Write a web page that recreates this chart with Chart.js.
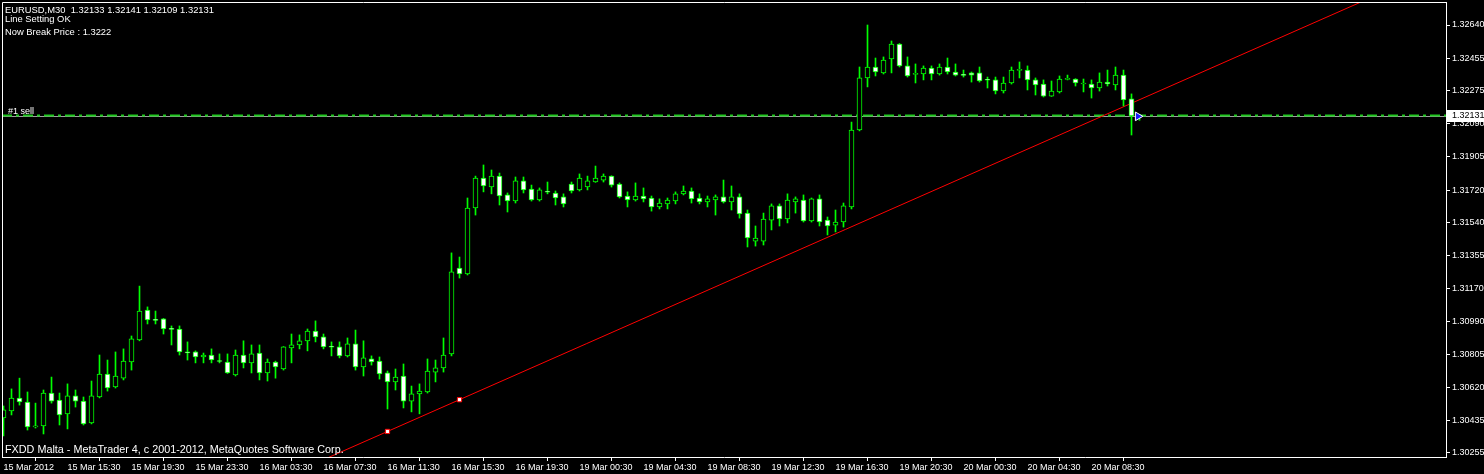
<!DOCTYPE html>
<html>
<head>
<meta charset="utf-8">
<script src="https://cdn.jsdelivr.net/npm/chart.js@4.4.1/dist/chart.umd.min.js"></script>
<style>
  html, body { margin: 0; padding: 0; background: #000; }
</style>
</head>
<body>
<canvas id="chart" width="1484" height="474"></canvas>
<script>
// EURUSD M30, one entry per bar
const tickLabels = ["15 Mar 2012", "15 Mar 15:30", "15 Mar 19:30", "15 Mar 23:30", "16 Mar 03:30", "16 Mar 07:30",
  "16 Mar 11:30", "16 Mar 15:30", "16 Mar 19:30", "19 Mar 00:30", "19 Mar 04:30", "19 Mar 08:30",
  "19 Mar 12:30", "19 Mar 16:30", "19 Mar 20:30", "20 Mar 00:30", "20 Mar 04:30", "20 Mar 08:30"];
const barsPerTick = 8;
const priceTicks = [1.30255, 1.30435, 1.30620, 1.30805, 1.30990, 1.31170, 1.31355,
  1.31540, 1.31720, 1.31905, 1.32090, 1.32275, 1.32455, 1.32640];

const open = [
  1.30450, 1.30489, 1.30561, 1.30539, 1.30400, 1.30406, 1.30589, 1.30550, 1.30473, 1.30573,
  1.30544, 1.30422, 1.30567, 1.30695, 1.30623, 1.30672, 1.30762, 1.30885, 1.31052, 1.30998,
  1.31002, 1.30946, 1.30946, 1.30818, 1.30818, 1.30790, 1.30801, 1.30769, 1.30762, 1.30690,
  1.30801, 1.30757, 1.30812, 1.30701, 1.30762, 1.30723, 1.30840, 1.30857, 1.30880, 1.30935,
  1.30902, 1.30846, 1.30846, 1.30796, 1.30863, 1.30734, 1.30779, 1.30767, 1.30701, 1.30651,
  1.30684, 1.30544, 1.30584, 1.30595, 1.30706, 1.30729, 1.30807, 1.31286, 1.31253, 1.31620,
  1.31787, 1.31737, 1.31798, 1.31693, 1.31659, 1.31771, 1.31726, 1.31665, 1.31712, 1.31704,
  1.31682, 1.31754, 1.31721, 1.31737, 1.31765, 1.31776, 1.31798, 1.31754, 1.31687, 1.31665,
  1.31687, 1.31676, 1.31626, 1.31643, 1.31659, 1.31699, 1.31715, 1.31676, 1.31654, 1.31665,
  1.31682, 1.31654, 1.31682, 1.31592, 1.31436, 1.31436, 1.31553, 1.31632, 1.31559, 1.31654,
  1.31665, 1.31548, 1.31671, 1.31553, 1.31525, 1.31542, 1.31626, 1.32055, 1.32345, 1.32406,
  1.32373, 1.32451, 1.32534, 1.32412, 1.32365, 1.32367, 1.32400, 1.32367, 1.32406, 1.32378,
  1.32361, 1.32373, 1.32373, 1.32334, 1.32334, 1.32272, 1.32317, 1.32387, 1.32389, 1.32334,
  1.32311, 1.32244, 1.32267, 1.32337, 1.32339, 1.32311, 1.32311, 1.32289, 1.32322, 1.32306,
  1.32361, 1.32228, 1.32133];
const high = [
  1.30517, 1.30612, 1.30672, 1.30595, 1.30533, 1.30606, 1.30678, 1.30589, 1.30640, 1.30606,
  1.30567, 1.30656, 1.30801, 1.30773, 1.30818, 1.30835, 1.30907, 1.31185, 1.31069, 1.31046,
  1.31005, 1.30963, 1.30963, 1.30874, 1.30824, 1.30812, 1.30835, 1.30807, 1.30807, 1.30829,
  1.30880, 1.30857, 1.30857, 1.30779, 1.30767, 1.30848, 1.30918, 1.30913, 1.30946, 1.30991,
  1.30918, 1.30874, 1.30874, 1.30896, 1.30940, 1.30880, 1.30796, 1.30790, 1.30712, 1.30723,
  1.30751, 1.30628, 1.30640, 1.30779, 1.30773, 1.30896, 1.31370, 1.31347, 1.31676, 1.31798,
  1.31860, 1.31832, 1.31815, 1.31704, 1.31793, 1.31793, 1.31748, 1.31732, 1.31765, 1.31715,
  1.31699, 1.31765, 1.31810, 1.31798, 1.31854, 1.31810, 1.31800, 1.31760, 1.31710, 1.31760,
  1.31732, 1.31687, 1.31671, 1.31676, 1.31710, 1.31743, 1.31732, 1.31699, 1.31687, 1.31693,
  1.31776, 1.31743, 1.31699, 1.31609, 1.31520, 1.31592, 1.31643, 1.31643, 1.31699, 1.31682,
  1.31693, 1.31676, 1.31693, 1.31570, 1.31609, 1.31648, 1.32099, 1.32406, 1.32640, 1.32456,
  1.32462, 1.32551, 1.32537, 1.32462, 1.32423, 1.32412, 1.32412, 1.32423, 1.32456, 1.32423,
  1.32389, 1.32378, 1.32406, 1.32350, 1.32350, 1.32350, 1.32406, 1.32434, 1.32412, 1.32345,
  1.32334, 1.32328, 1.32356, 1.32361, 1.32341, 1.32339, 1.32334, 1.32373, 1.32389, 1.32406,
  1.32389, 1.32256, 1.32141];
const low = [
  1.30350, 1.30467, 1.30522, 1.30383, 1.30394, 1.30361, 1.30533, 1.30411, 1.30389, 1.30511,
  1.30411, 1.30417, 1.30562, 1.30600, 1.30617, 1.30662, 1.30717, 1.30880, 1.30974, 1.30974,
  1.30918, 1.30857, 1.30801, 1.30773, 1.30757, 1.30757, 1.30757, 1.30757, 1.30698, 1.30684,
  1.30729, 1.30701, 1.30662, 1.30656, 1.30672, 1.30717, 1.30757, 1.30835, 1.30824, 1.30874,
  1.30835, 1.30796, 1.30785, 1.30790, 1.30717, 1.30684, 1.30745, 1.30667, 1.30500, 1.30606,
  1.30506, 1.30484, 1.30473, 1.30589, 1.30651, 1.30706, 1.30796, 1.31230, 1.31247, 1.31581,
  1.31710, 1.31699, 1.31637, 1.31598, 1.31648, 1.31704, 1.31659, 1.31659, 1.31699, 1.31637,
  1.31626, 1.31704, 1.31715, 1.31721, 1.31763, 1.31765, 1.31737, 1.31676, 1.31626, 1.31659,
  1.31654, 1.31603, 1.31615, 1.31615, 1.31643, 1.31693, 1.31648, 1.31643, 1.31626, 1.31581,
  1.31648, 1.31609, 1.31564, 1.31403, 1.31408, 1.31414, 1.31498, 1.31520, 1.31537, 1.31592,
  1.31542, 1.31542, 1.31520, 1.31470, 1.31487, 1.31514, 1.31615, 1.32050, 1.32295, 1.32356,
  1.32367, 1.32373, 1.32406, 1.32350, 1.32317, 1.32334, 1.32334, 1.32361, 1.32367, 1.32356,
  1.32350, 1.32322, 1.32322, 1.32289, 1.32256, 1.32261, 1.32311, 1.32345, 1.32278, 1.32250,
  1.32239, 1.32242, 1.32261, 1.32334, 1.32300, 1.32267, 1.32233, 1.32272, 1.32300, 1.32278,
  1.32189, 1.32027, 1.32109];
const close = [
  1.30495, 1.30561, 1.30539, 1.30400, 1.30406, 1.30589, 1.30544, 1.30467, 1.30573, 1.30544,
  1.30417, 1.30573, 1.30695, 1.30617, 1.30684, 1.30767, 1.30891, 1.31046, 1.30996, 1.30994,
  1.30946, 1.30944, 1.30818, 1.30812, 1.30790, 1.30801, 1.30773, 1.30765, 1.30701, 1.30801,
  1.30757, 1.30807, 1.30701, 1.30762, 1.30734, 1.30846, 1.30857, 1.30880, 1.30935, 1.30902,
  1.30846, 1.30844, 1.30796, 1.30863, 1.30734, 1.30785, 1.30762, 1.30695, 1.30651, 1.30678,
  1.30544, 1.30584, 1.30600, 1.30712, 1.30729, 1.30801, 1.31264, 1.31253, 1.31620, 1.31787,
  1.31743, 1.31798, 1.31687, 1.31659, 1.31771, 1.31721, 1.31665, 1.31721, 1.31708, 1.31676,
  1.31643, 1.31715, 1.31787, 1.31771, 1.31787, 1.31798, 1.31748, 1.31682, 1.31665, 1.31687,
  1.31671, 1.31626, 1.31648, 1.31665, 1.31699, 1.31715, 1.31671, 1.31654, 1.31671, 1.31682,
  1.31654, 1.31682, 1.31587, 1.31453, 1.31453, 1.31559, 1.31632, 1.31559, 1.31665, 1.31671,
  1.31548, 1.31671, 1.31542, 1.31520, 1.31542, 1.31632, 1.32055, 1.32345, 1.32406, 1.32378,
  1.32445, 1.32534, 1.32412, 1.32356, 1.32367, 1.32400, 1.32367, 1.32406, 1.32378, 1.32361,
  1.32359, 1.32361, 1.32328, 1.32332, 1.32272, 1.32317, 1.32389, 1.32391, 1.32334, 1.32306,
  1.32244, 1.32272, 1.32339, 1.32341, 1.32317, 1.32313, 1.32289, 1.32322, 1.32311, 1.32361,
  1.32222, 1.32133, 1.32131];

const bidPrice = 1.32131;
const sellPrice = 1.32135;
const trendX = [48, 57];
const trendY = [1.30375, 1.30552];
const orderX = [141.8];
const orderY = [1.32131];

const headerLines = ["EURUSD,M30  1.32133 1.32141 1.32109 1.32131", "Line Setting OK", "Now Break Price : 1.3222"];
const footerText = "FXDD Malta - MetaTrader 4, c 2001-2012, MetaQuotes Software Corp.";

const LIME = "#00ff00";
const FONT = "'Liberation Sans', Arial, sans-serif";

const wicks = open.map((o, i) => ({ x: i, y: [low[i], high[i]] }));
const bodies = open.map((o, i) => ({ x: i, y: [o, close[i]] }));
const bodyFill = open.map((o, i) => (close[i] > o ? "#000000" : "#ffffff"));

const mt4Plugin = {
  id: "mt4",
  beforeDraw(chart) {
    const ctx = chart.ctx;
    ctx.save();
    ctx.fillStyle = "#000";
    ctx.fillRect(0, 0, chart.width, chart.height);
    ctx.restore();
  },
  beforeDatasetsDraw(chart) {
    const { ctx, chartArea: a, scales } = chart;
    const x = scales.x, y = scales.y;
    ctx.save();
    ctx.beginPath();
    ctx.rect(a.left, a.top, a.right - a.left, a.bottom - a.top);
    ctx.clip();

    // bid line
    const by = Math.round(y.getPixelForValue(bidPrice)) + 0.5;
    ctx.strokeStyle = "#a0a0a0";
    ctx.lineWidth = 1;
    ctx.beginPath();
    ctx.moveTo(a.left, by);
    ctx.lineTo(a.right, by);
    ctx.stroke();

    // sell order level
    const sy = Math.round(y.getPixelForValue(sellPrice)) - 0.5;
    ctx.strokeStyle = "#1fc81f";
    ctx.lineWidth = 2;
    ctx.setLineDash([10, 4, 3, 4]);
    ctx.beginPath();
    ctx.moveTo(a.left, sy);
    ctx.lineTo(a.right, sy);
    ctx.stroke();
    ctx.setLineDash([]);

    // trend line through the two anchors, extended both ways
    const x1 = x.getPixelForValue(trendX[0]), y1 = y.getPixelForValue(trendY[0]);
    const x2 = x.getPixelForValue(trendX[1]), y2 = y.getPixelForValue(trendY[1]);
    const k = (y2 - y1) / (x2 - x1);
    ctx.strokeStyle = "#ff0000";
    ctx.lineWidth = 1;
    ctx.beginPath();
    ctx.moveTo(a.left, y1 + k * (a.left - x1));
    ctx.lineTo(a.right, y1 + k * (a.right - x1));
    ctx.stroke();
    ctx.restore();
  },
  afterDraw(chart) {
    const { ctx, chartArea: a, scales } = chart;
    ctx.save();
    // left and top frame
    ctx.strokeStyle = "#fff";
    ctx.lineWidth = 1;
    ctx.beginPath();
    ctx.moveTo(a.left + 0.5, a.bottom);
    ctx.lineTo(a.left + 0.5, a.top + 0.5);
    ctx.lineTo(a.right, a.top + 0.5);
    ctx.stroke();

    ctx.fillStyle = "#fff";
    ctx.textBaseline = "alphabetic";
    ctx.textAlign = "left";
    ctx.font = "9.4px " + FONT;
    ctx.fillText(headerLines[0], 5, 13);
    ctx.fillText(headerLines[1], 5, 22);
    ctx.fillText(headerLines[2], 5, 35);
    ctx.font = "10.8px " + FONT;
    ctx.fillText(footerText, 5, 453);
    ctx.font = "9px " + FONT;
    ctx.fillText("#1 sell", 8, 114);

    // current price box on the axis
    const py = Math.round(scales.y.getPixelForValue(bidPrice));
    ctx.fillStyle = "#fff";
    ctx.fillRect(a.right + 1, py - 6, chart.width - a.right - 1, 12);
    ctx.fillStyle = "#000";
    ctx.textBaseline = "middle";
    ctx.fillText(bidPrice.toFixed(5), a.right + 6, py);
    ctx.restore();
  }
};

Chart.defaults.font.family = FONT;
Chart.defaults.font.size = 9;

new Chart(document.getElementById("chart"), {
  type: "bar",
  data: {
    datasets: [
      {
        type: "scatter",
        data: trendX.map((v, i) => ({ x: v, y: trendY[i] })),
        pointStyle: "rect",
        pointRadius: 3,
        backgroundColor: "#ffffff",
        borderColor: "#ff0000",
        borderWidth: 1,
        order: 0
      },
      {
        type: "scatter",
        data: orderX.map((v, i) => ({ x: v, y: orderY[i] })),
        pointStyle: "triangle",
        rotation: 90,
        pointRadius: 5,
        backgroundColor: "#1a1aff",
        borderColor: "#ffffff",
        borderWidth: 1,
        order: 0
      },
      {
        data: bodies,
        backgroundColor: bodyFill,
        borderColor: LIME,
        borderWidth: 1,
        borderSkipped: false,
        barThickness: 5,
        minBarLength: 1,
        grouped: false,
        order: 1
      },
      {
        data: wicks,
        backgroundColor: LIME,
        borderWidth: 0,
        barThickness: 1,
        grouped: false,
        order: 2
      }
    ]
  },
  options: {
    responsive: false,
    animation: false,
    devicePixelRatio: 1,
    events: [],
    layout: { autoPadding: false, padding: { left: 2, top: 2, right: 0, bottom: 0 } },
    plugins: { legend: { display: false }, tooltip: { enabled: false } },
    scales: {
      x: {
        type: "linear",
        min: -0.1875,
        max: 180.3125,
        offset: false,
        afterBuildTicks: (s) => { s.ticks = tickLabels.map((t, i) => ({ value: i * barsPerTick })); },
        afterFit: (s) => { s.height = 17; s.paddingLeft = 0; s.paddingRight = 0; },
        ticks: {
          color: "#fff",
          align: "start",
          padding: 1,
          autoSkip: false,
          maxRotation: 0,
          callback: (v, i) => tickLabels[i]
        },
        grid: { drawOnChartArea: false, color: "#fff", tickLength: 4 },
        border: { color: "#fff" }
      },
      y: {
        type: "linear",
        position: "right",
        min: 1.302326,
        max: 1.327682,
        afterBuildTicks: (s) => { s.ticks = priceTicks.map((v) => ({ value: v })); },
        afterFit: (s) => { s.width = 38; s.paddingTop = 0; s.paddingBottom = 0; },
        ticks: {
          color: "#fff",
          padding: 2,
          autoSkip: false,
          callback: (v) => Number(v).toFixed(5)
        },
        grid: { drawOnChartArea: false, color: "#fff", tickLength: 4 },
        border: { color: "#fff" }
      }
    }
  },
  plugins: [mt4Plugin]
});
</script>
</body>
</html>
